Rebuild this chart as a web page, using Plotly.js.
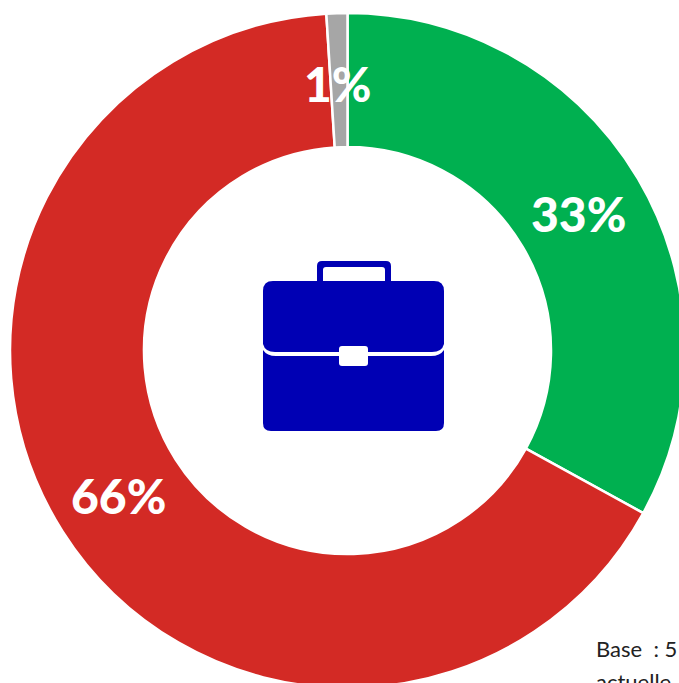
<!DOCTYPE html>
<html><head><meta charset="utf-8">
<script src="https://cdn.plot.ly/plotly-3.0.1.min.js"></script>
<style>html,body{margin:0;padding:0;background:#fff;overflow:hidden;width:679px;height:683px}#c{position:absolute;left:0;top:0}</style>
</head><body><div id="c"></div>
<script>
var categories = ['Oui', 'Non', 'NSP'];
var values = [33, 66, 1];
var colors = ['#00B050', '#D32A25', '#A6A6A6'];
var labels = ['33%', '66%', '1%'];
var baseLines = ['Base\u00A0\u00A0:\u00A05', 'actuelle'];

var L = 10, T = 13, S = 675, W = 685, H = 688;
function px(x){ return (x - L) / S; }
function py(y){ return 1 - (y - T) / S; }
function P(cmd){ // "M x y L x y ..." in picture pixels -> paper coordinates
  return cmd.replace(/(-?[\d.]+) (-?[\d.]+)/g, function(_, x, y){ return px(+x).toFixed(5) + ' ' + py(+y).toFixed(5); });
}
var cx = 347, cy = 351, rMid = 270;
var cum = 0;
var anns = values.map(function(v, i){
  var a = (cum + v / 2) / 100 * 2 * Math.PI; cum += v;
  return {xref:'paper', yref:'paper', x:px(cx + rMid*Math.sin(a) - 1), y:py(cy - rMid*Math.cos(a) + (i==2?2:0)),
    text:labels[i], showarrow:false, xanchor:'center', yanchor:'middle',
    font:{family:'Lato, sans-serif', size:48, color:'#fff', weight:900}};
});
anns.push({xref:'paper',yref:'paper',x:px(594),y:py(648),text:baseLines[0],showarrow:false,xanchor:'left',yanchor:'middle',font:{family:'Lato, sans-serif',size:22,color:'#222'}});
anns.push({xref:'paper',yref:'paper',x:px(594),y:py(681),text:baseLines[1],showarrow:false,xanchor:'left',yanchor:'middle',font:{family:'Lato, sans-serif',size:22,color:'#222'}});

var blue = '#0000B4';
var shapes = [
 {type:'path', xref:'paper', yref:'paper', fillcolor:blue, line:{width:0}, layer:'above',
  path:P('M 317 283 L 317 266 Q 317 261 322 261 L 386 261 Q 391 261 391 266 L 391 283 L 385 283 L 385 270 Q 385 267 382 267 L 326 267 Q 323 267 323 270 L 323 283 Z')},
 {type:'path', xref:'paper', yref:'paper', fillcolor:blue, line:{width:0}, layer:'above',
  path:P('M 263 291 Q 263 281 273 281 L 434 281 Q 444 281 444 291 L 444 344 Q 442 352 432 352 L 275 352 Q 265 352 263 344 Z')},
 {type:'path', xref:'paper', yref:'paper', fillcolor:blue, line:{width:0}, layer:'above',
  path:P('M 263 350 Q 267 356 276 356 L 431 356 Q 440 356 444 350 L 444 423 Q 444 431 436 431 L 271 431 Q 263 431 263 423 Z')},
 {type:'path', xref:'paper', yref:'paper', fillcolor:'#fff', line:{width:0}, layer:'above',
  path:P('M 339 349 Q 339 346 342 346 L 365 346 Q 368 346 368 349 L 368 363 Q 368 366 365 366 L 342 366 Q 339 366 339 363 Z')}
];

Plotly.newPlot('c', [{
  type:'pie', labels:categories, values:values, sort:false, direction:'clockwise', rotation:0,
  hole:0.603, textinfo:'none', marker:{colors:colors, line:{color:'#fff', width:2.5}},
  domain:{x:[0,1], y:[0,1]}
}], {
  width:W, height:H, margin:{l:L, t:T, r:0, b:0, pad:0, autoexpand:false},
  showlegend:false, paper_bgcolor:'#fff', annotations:anns, shapes:shapes
}, {displayModeBar:false, staticPlot:true});
</script></body></html>
